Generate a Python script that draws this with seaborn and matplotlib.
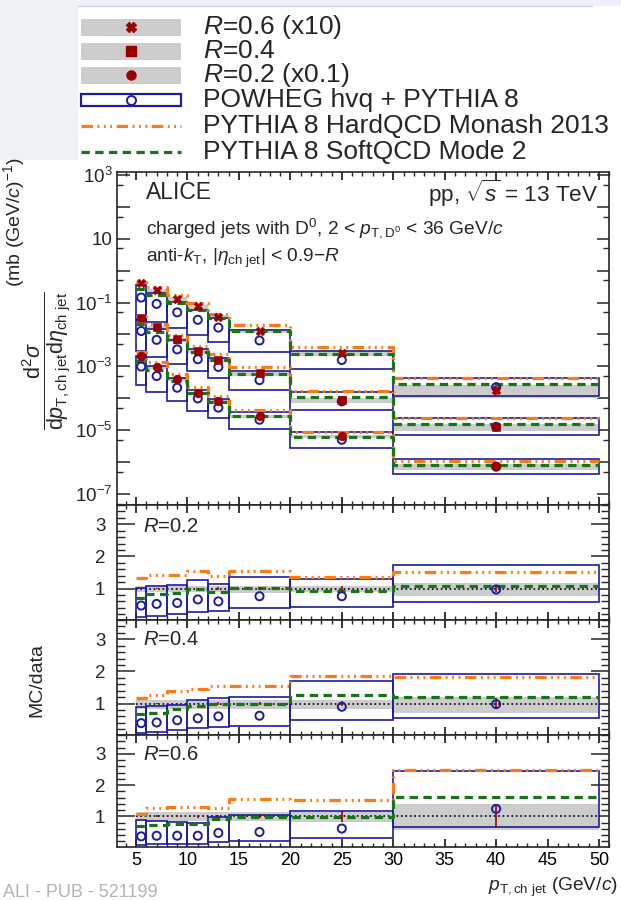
import numpy as np
import pandas as pd
import matplotlib
matplotlib.use("Agg")
import matplotlib.pyplot as plt
import seaborn as sns
from matplotlib.patches import Rectangle
from matplotlib.ticker import FixedLocator, FixedFormatter, MultipleLocator, NullFormatter

# ---------------- data ----------------
bin_lo = [5, 6, 8, 10, 12, 14, 20, 30]
bin_hi = [6, 8, 10, 12, 14, 20, 30, 50]
bin_center = [5.5, 7, 9, 11, 13, 17, 25, 40]

x_ticks = [5, 10, 15, 20, 25, 30, 35, 40, 45, 50]
x_tick_labels = ["5", "10", "15", "20", "25", "30", "35", "40", "45", "50"]
ratio_ticks = [1, 2, 3]
ratio_tick_labels = ["1", "2", "3"]
log_ticks = [1e3, 1e2, 1e1, 1e0, 1e-1, 1e-2, 1e-3, 1e-4, 1e-5, 1e-6, 1e-7]
log_tick_labels = [r"$10^{3}$", "", "10", "", r"$10^{-1}$", "", r"$10^{-3}$", "",
                   r"$10^{-5}$", "", r"$10^{-7}$"]

# display scale factors
scale_r02 = 0.1
scale_r04 = 1.0
scale_r06 = 10.0

# measured cross sections (mb (GeV/c)^-1)
xsec_r02 = [0.021, 9.6e-3, 3.9e-3, 1.5e-3, 8.5e-4, 2.8e-4, 6.6e-5, 7.4e-6]
xsec_r04 = [0.033, 0.0166, 7.1e-3, 3.1e-3, 1.6e-3, 6.0e-4, 8.9e-5, 1.3e-5]
xsec_r06 = [0.040, 0.024, 0.013, 7.6e-3, 3.5e-3, 1.3e-3, 2.6e-4, 1.8e-5]

# relative uncertainties
stat_r02 = [0.02, 0.02, 0.03, 0.03, 0.04, 0.05, 0.07, 0.12]
stat_r04 = [0.02, 0.02, 0.03, 0.03, 0.04, 0.05, 0.08, 0.17]
stat_r06 = [0.02, 0.03, 0.03, 0.04, 0.05, 0.06, 0.18, 0.35]
syst_up_r02 = [0.08, 0.08, 0.08, 0.08, 0.08, 0.08, 0.09, 0.18]
syst_dn_r02 = [0.12, 0.12, 0.12, 0.12, 0.12, 0.13, 0.12, 0.24]
syst_up_r04 = [0.10, 0.10, 0.10, 0.10, 0.10, 0.10, 0.12, 0.20]
syst_dn_r04 = [0.17, 0.17, 0.17, 0.17, 0.17, 0.17, 0.18, 0.28]
syst_up_r06 = [0.13, 0.13, 0.13, 0.13, 0.13, 0.13, 0.14, 0.40]
syst_dn_r06 = [0.15, 0.15, 0.15, 0.15, 0.15, 0.15, 0.17, 0.43]

# MC / data ratios
powheg_r02 = [0.47, 0.52, 0.55, 0.66, 0.60, 0.76, 0.76, 0.97]
powheg_lo_r02 = [0.12, 0.16, 0.21, 0.27, 0.29, 0.40, 0.42, 0.58]
powheg_hi_r02 = [1.02, 1.07, 1.10, 1.25, 1.15, 1.37, 1.31, 1.72]
hardqcd_r02 = [1.33, 1.41, 1.43, 1.54, 1.39, 1.54, 1.35, 1.51]
softqcd_r02 = [0.71, 0.83, 0.87, 0.99, 0.90, 1.02, 0.92, 1.07]

powheg_r04 = [0.39, 0.41, 0.48, 0.54, 0.60, 0.62, 0.90, 0.98]
powheg_lo_r04 = [0.09, 0.12, 0.17, 0.23, 0.27, 0.30, 0.50, 0.56]
powheg_hi_r04 = [0.88, 0.91, 0.96, 1.11, 1.17, 1.19, 1.71, 1.92]
hardqcd_r04 = [1.17, 1.27, 1.38, 1.45, 1.55, 1.55, 1.87, 1.82]
softqcd_r04 = [0.67, 0.72, 0.82, 0.93, 0.98, 0.98, 1.26, 1.19]

powheg_r06 = [0.36, 0.38, 0.38, 0.38, 0.47, 0.50, 0.61, 1.24]
powheg_lo_r06 = [0.07, 0.10, 0.12, 0.13, 0.17, 0.22, 0.31, 0.66]
powheg_hi_r06 = [0.87, 0.84, 0.82, 0.79, 0.97, 1.05, 1.18, 2.44]
hardqcd_r06 = [1.09, 1.27, 1.30, 1.30, 1.27, 1.57, 1.53, 2.47]
softqcd_r06 = [0.68, 0.73, 0.76, 0.76, 0.93, 0.97, 0.97, 1.61]

legend_labels = [r"$R$=0.6 (x10)", r"$R$=0.4", r"$R$=0.2 (x0.1)",
                 "POWHEG hvq + PYTHIA 8", "PYTHIA 8 HardQCD Monash 2013",
                 "PYTHIA 8 SoftQCD Mode 2"]

# ---------------- style ----------------
sns.set_theme(style="ticks")
plt.rcParams["font.family"] = ["Liberation Sans", "DejaVu Sans"]
plt.rcParams["mathtext.fontset"] = "custom"
plt.rcParams["mathtext.rm"] = "Liberation Sans"
plt.rcParams["mathtext.it"] = "Liberation Sans:italic"
plt.rcParams["mathtext.bf"] = "Liberation Sans:bold"
plt.rcParams["mathtext.sf"] = "Liberation Sans"
plt.rcParams["axes.linewidth"] = 1.2
plt.rcParams["axes.unicode_minus"] = True

C_DATA = "#9a0000"
C_BAND = "#cccccc"
C_POW = "#1c1c9e"
C_HARD = "#ff7a12"
C_SOFT = "#177517"
LS_HARD = (0, (3.6, 1.4, 0.6, 1.4, 0.6, 1.4, 0.6, 1.4))
LS_SOFT = (0, (2.6, 1.7))
LW_MC = 2.3

W, H = 621, 900
fig = plt.figure(figsize=(W / 100, H / 100), dpi=100)
fig.patch.set_facecolor("white")

L_PX, R_PX = 116.5, 609.3


def rect(top, bot):
    return [L_PX / W, 1 - bot / H, (R_PX - L_PX) / W, (bot - top) / H]


ax_top = fig.add_axes(rect(172, 505))
ax_r1 = fig.add_axes(rect(505, 620))
ax_r2 = fig.add_axes(rect(620, 735))
ax_r3 = fig.add_axes(rect(735, 847))


def add_boxes(ax, lows, highs, **kw):
    for lo, hi, b, t in zip(bin_lo, bin_hi, lows, highs):
        ax.add_patch(Rectangle((lo, b), hi - lo, t - b, **kw))


def add_step(ax, vals, color, ls):
    df = pd.DataFrame({"x": bin_lo + [bin_hi[-1]], "y": list(vals) + [vals[-1]]})
    sns.lineplot(data=df, x="x", y="y", ax=ax, drawstyle="steps-post", color=color,
                 linestyle=ls, linewidth=LW_MC, estimator=None, sort=False,
                 legend=False, zorder=4)


def style_x(ax, labels):
    ax.set_xlim(3.1, 51.0)
    ax.xaxis.set_major_locator(FixedLocator(x_ticks))
    ax.xaxis.set_minor_locator(MultipleLocator(1))
    if labels:
        ax.xaxis.set_major_formatter(FixedFormatter(x_tick_labels))
    else:
        ax.xaxis.set_major_formatter(NullFormatter())
    ax.tick_params(axis="x", which="major", direction="in", length=6, width=1.1,
                   top=True, bottom=True, labelsize=13, pad=3.5, colors="black")
    ax.tick_params(axis="x", which="minor", direction="in", length=3, width=1.0,
                   top=True, bottom=True)
    ax.set_xlabel("")


sets = [
    (xsec_r06, scale_r06, stat_r06, syst_up_r06, syst_dn_r06, powheg_r06, powheg_lo_r06,
     powheg_hi_r06, hardqcd_r06, softqcd_r06, "X", 40),
    (xsec_r04, scale_r04, stat_r04, syst_up_r04, syst_dn_r04, powheg_r04, powheg_lo_r04,
     powheg_hi_r04, hardqcd_r04, softqcd_r04, "s", 32),
    (xsec_r02, scale_r02, stat_r02, syst_up_r02, syst_dn_r02, powheg_r02, powheg_lo_r02,
     powheg_hi_r02, hardqcd_r02, softqcd_r02, "o", 40),
]

# ---------------- top panel ----------------
ax = ax_top
ax.set_yscale("log")
for (xs, sc, st, su, sd, pw, plo, phi, hq, sq, mk, ms) in sets:
    d = np.array(xs) * sc
    add_boxes(ax, d * (1 - np.array(sd)), d * (1 + np.array(su)), facecolor=C_BAND,
              edgecolor="none", zorder=1)
    add_boxes(ax, d * np.array(plo), d * np.array(phi), facecolor="none",
              edgecolor=C_POW, linewidth=1.2, zorder=2)
    add_step(ax, d * np.array(hq), C_HARD, LS_HARD)
    add_step(ax, d * np.array(sq), C_SOFT, LS_SOFT)
    ax.vlines(bin_center, d * (1 - np.array(st)), d * (1 + np.array(st)), color=C_DATA,
              linewidth=1.2, zorder=5)
    sns.scatterplot(x=bin_center, y=list(d * np.array(pw)), ax=ax, marker="o", s=34,
                    color=C_POW, facecolors="none", edgecolor=C_POW, linewidth=1.4,
                    zorder=6, legend=False)
    sns.scatterplot(x=bin_center, y=list(d), ax=ax, marker=mk, s=ms, color=C_DATA,
                    edgecolor=C_DATA, linewidth=0.4, zorder=7, legend=False)
ax.set_ylim(10 ** -7.345, 10 ** 3.094)
ax.yaxis.set_major_locator(FixedLocator(log_ticks))
ax.yaxis.set_major_formatter(FixedFormatter(log_tick_labels))
ax.yaxis.set_minor_locator(FixedLocator([5 * 10.0 ** k for k in range(-8, 3)]))
ax.yaxis.set_minor_formatter(NullFormatter())
ax.tick_params(axis="y", which="major", direction="in", length=9, width=1.1, left=True,
               right=True, labelsize=13.5, pad=3)
ax.tick_params(axis="y", which="minor", direction="in", length=4.5, width=1.0, left=True,
               right=True)
ax.set_ylabel("")
style_x(ax, False)

# ---------------- ratio panels ----------------
ratio_sets = [
    (ax_r1, sets[2]),
    (ax_r2, sets[1]),
    (ax_r3, sets[0]),
]
for axr, (xs, sc, st, su, sd, pw, plo, phi, hq, sq, mk, ms) in ratio_sets:
    ones = np.ones(len(bin_lo))
    add_boxes(axr, ones - np.array(sd), ones + np.array(su), facecolor=C_BAND,
              edgecolor="none", zorder=1)
    axr.hlines(1, bin_lo[0], bin_hi[-1], colors="black", linestyles=":", linewidth=1.2,
               zorder=2)
    add_boxes(axr, plo, phi, facecolor="none", edgecolor=C_POW, linewidth=1.2, zorder=3)
    add_step(axr, hq, C_HARD, LS_HARD)
    add_step(axr, sq, C_SOFT, LS_SOFT)
    axr.vlines(bin_center, ones - np.array(st), ones + np.array(st), color=C_DATA,
               linewidth=1.2, zorder=5)
    sns.scatterplot(x=bin_center, y=pw, ax=axr, marker="o", s=34, color=C_POW,
                    facecolors="none", edgecolor=C_POW, linewidth=1.4, zorder=6,
                    legend=False)
    axr.set_ylim(0.02, 3.6)
    axr.yaxis.set_major_locator(FixedLocator(ratio_ticks))
    axr.yaxis.set_major_formatter(FixedFormatter(ratio_tick_labels))
    axr.yaxis.set_minor_locator(MultipleLocator(0.2))
    axr.tick_params(axis="y", which="major", direction="in", length=13, width=1.1,
                    left=True, right=True, labelsize=13.5, pad=8)
    axr.tick_params(axis="y", which="minor", direction="in", length=6, width=1.0,
                    left=True, right=True)
    axr.set_ylabel("")
    style_x(axr, axr is ax_r3)

# ---------------- overlay: texts and legend ----------------
ov = fig.add_axes([0, 0, 1, 1], zorder=20)
ov.set_xlim(0, W)
ov.set_ylim(H, 0)
ov.axis("off")
ov.patch.set_alpha(0)

# screenshot background remnants
ov.add_patch(Rectangle((0, 0), 78, 160, facecolor="#eef1f6", edgecolor="none", zorder=0))
ov.add_patch(Rectangle((78, 0), 543, 6, facecolor="#eef1f6", edgecolor="none", zorder=0))
ov.plot([78, 592], [5.5, 5.5], color="#c7d4ec", linewidth=1.0, zorder=1)

# legend
leg_y = [27, 51, 75, 100, 126, 152]
leg_markers = ["X", "s", "o"]
for yc, mk in zip(leg_y[:3], leg_markers):
    ov.add_patch(Rectangle((81, yc - 8.5), 100, 17, facecolor=C_BAND, edgecolor="none"))
    ov.plot([131], [yc], marker=mk, color=C_DATA, markersize=6.5, linestyle="none")
ov.add_patch(Rectangle((81, leg_y[3] - 6), 100, 12, facecolor="white", edgecolor=C_POW,
                       linewidth=1.6))
ov.plot([131], [leg_y[3]], marker="o", markerfacecolor="none", markeredgecolor=C_POW,
        markersize=6.5, markeredgewidth=1.4, linestyle="none")
ov.plot([81, 181], [leg_y[4], leg_y[4]], color=C_HARD, linestyle=LS_HARD, linewidth=LW_MC)
ov.plot([81, 181], [leg_y[5], leg_y[5]], color=C_SOFT, linestyle=LS_SOFT, linewidth=LW_MC)
for yc, lab in zip(leg_y, legend_labels):
    ov.text(203, yc, lab, fontsize=19, va="center", ha="left")

# panel texts
ov.text(146, 199, "ALICE", fontsize=16.5, va="baseline", ha="left")
ov.text(598, 202, r"pp, $\sqrt{s}$ = 13 TeV", fontsize=16.2, va="baseline", ha="right")
ov.text(146, 233, r"charged jets with D$^{0}$, 2 < $p_{\mathrm{T,D^{0}}}$ < 36 GeV/$c$",
        fontsize=13.8, va="baseline", ha="left")
ov.text(146, 262, r"anti-$k_{\mathrm{T}}$, |$\eta_{\mathrm{ch\ jet}}$| < 0.9$-R$",
        fontsize=13.8, va="baseline", ha="left")
ov.text(143, 532, r"$R$=0.2", fontsize=14.5, va="baseline", ha="left")
ov.text(143, 645, r"$R$=0.4", fontsize=14.5, va="baseline", ha="left")
ov.text(143, 760, r"$R$=0.6", fontsize=14.5, va="baseline", ha="left")

# axis titles
ov.text(46, 361, r"$\dfrac{\mathrm{d}^{2}\sigma}{\mathrm{d}p_{\mathrm{T,ch\ jet}}\mathrm{d}\eta_{\mathrm{ch\ jet}}}$",
        fontsize=15.5, rotation=90, va="center", ha="center")
ov.text(14, 222, r"(mb (GeV/$c$)$^{-1}$)", fontsize=14, rotation=90, va="center",
        ha="center")
ov.text(37, 680, "MC/data", fontsize=14, rotation=90, va="center", ha="center")
ov.text(618, 891, r"$p_{\mathrm{T,ch\ jet}}$ (GeV/$c$)", fontsize=13.8, va="baseline",
        ha="right")

# watermark
ov.text(3, 897, "ALI - PUB - 521199", fontsize=13, color="#b4b4b4", va="baseline",
        ha="left")

fig.savefig("out.png", dpi=100)
